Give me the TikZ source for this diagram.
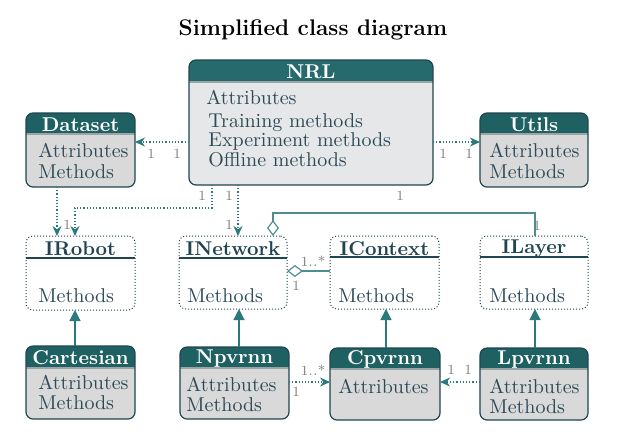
\documentclass[tikz,border=0pt]{standalone}
\usetikzlibrary{arrows.meta,calc}
\definecolor{hdr}{HTML}{1F6062}
\definecolor{hdrnrl}{HTML}{266A6D}
\definecolor{bodyg}{HTML}{D9D9D9}
\definecolor{bodynrl}{HTML}{E5E7E9}
\definecolor{bord}{HTML}{1F4550}
\definecolor{txt}{HTML}{2C4A57}
\definecolor{teal}{HTML}{2A7A7B}
\definecolor{lteal}{HTML}{4E8E93}
\definecolor{lbl}{HTML}{7F7F7F}
\definecolor{sepc}{HTML}{9AA5A8}
\tikzset{
  boxshape/.style={rounded corners=3.5pt, inner sep=0pt, outer sep=0pt},
  bodytext/.style={anchor=west, text=txt, inner sep=0pt},
  hdrtext/.style={text=white, font=\bfseries, inner sep=0pt},
  ifctext/.style={text=bord, font=\bfseries, inner sep=0pt},
  dep/.style={teal, densely dotted, line width=0.6pt, -{Stealth[length=5pt,width=4.5pt]}},
  inh/.style={teal, line width=0.6pt, -{Triangle[length=5.5pt,width=5.5pt]}},
  agg/.style={lteal, line width=0.6pt, {Diamond[open,length=8pt,width=6pt]}-},
  mult/.style={text=lbl, font=\scriptsize, inner sep=0pt},
}
% #1 name, #2 x1, #3 y1, #4 x2, #5 y2, #6 yh, #7 title, #8 body colour, #9 header colour
\newcommand\myclass[9]{%
  \path[boxshape, fill=#8] (#2,#3) rectangle (#4,#5);
  \begin{scope}
    \clip[boxshape] (#2,#3) rectangle (#4,#5);
    \fill[#9] (#2,#3) rectangle (#4,#6);
    \draw[sepc, line width=0.6pt] (#2,#6) -- (#4,#6);
  \end{scope}
  \node[boxshape, draw=bord, line width=0.6pt, minimum width={(#4-#2)*0.5pt}, minimum height={(#5-#3)*0.5pt}] (#1) at ({(#2+#4)/2},{(#3+#5)/2}) {};
  \node[hdrtext] (#1-t) at ({(#2+#4)/2},{(#3+#6)/2+1}) {#7};
}
\newcommand\myiface[7]{%
  \node[boxshape, draw=bord, fill=white, densely dotted, line width=0.5pt, minimum width={(#4-#2)*0.5pt}, minimum height={(#5-#3)*0.5pt}] (#1) at ({(#2+#4)/2},{(#3+#5)/2}) {};
  \draw[bord, line width=0.6pt] (#2,#6) -- (#4,#6);
  \node[ifctext] (#1-t) at ({(#2+#4)/2},{(#3+#6)/2+2}) {#7};
}
\begin{document}
\begin{tikzpicture}[x=0.5pt, y=-0.5pt]
\useasboundingbox (0,0) rectangle (630,446);
\node[font=\fontsize{11.3}{13.5}\selectfont\bfseries, inner sep=0pt] (title) at (313,30) {Simplified class diagram};

\myclass{nrl}{189}{60}{433}{185}{82}{NRL}{bodynrl}{hdrnrl}
\node[bodytext] (nrl-a) at (206,97) {Attributes};
\node[bodytext] (nrl-m1) at (208,123) {Training methods};
\node[bodytext] (nrl-m2) at (208,141) {Experiment methods};
\node[bodytext] (nrl-m3) at (208,160) {Offline methods};

\myclass{dataset}{26}{113}{135}{187}{134}{Dataset}{bodyg}{hdr}
\node[bodytext] (dataset-a) at (38,150) {Attributes};
\node[bodytext] (dataset-m) at (38,172) {Methods};

\myclass{utils}{480}{113}{588}{187}{134}{Utils}{bodyg}{hdr}
\node[bodytext] (utils-a) at (489,150) {Attributes};
\node[bodytext] (utils-m) at (489,172) {Methods};

\myiface{irobot}{26}{236}{135}{310}{258}{IRobot}
\node[bodytext] (irobot-m) at (38,296) {Methods};
\myiface{inetwork}{179}{236}{287}{309}{258}{INetwork}
\node[bodytext] (inetwork-m) at (187,296) {Methods};
\myiface{icontext}{330}{236}{439}{309}{257}{IContext}
\node[bodytext] (icontext-m) at (338,296) {Methods};
\myiface{ilayer}{480}{236}{588}{309}{257}{ILayer}
\node[bodytext] (ilayer-m) at (489,296) {Methods};

\myclass{cartesian}{26}{346}{135}{419}{368}{Cartesian}{bodyg}{hdr}
\node[bodytext] (cartesian-a) at (38,382) {Attributes};
\node[bodytext] (cartesian-m) at (38,403) {Methods};
\myclass{npvrnn}{180}{347}{289}{419}{368}{Npvrnn}{bodyg}{hdr}
\node[bodytext] (npvrnn-a) at (186,384) {Attributes};
\node[bodytext] (npvrnn-m) at (186,405) {Methods};
\myclass{cpvrnn}{330}{348}{440}{420}{369}{Cpvrnn}{bodyg}{hdr}
\node[bodytext] (cpvrnn-a) at (338,386) {Attributes};
\myclass{lpvrnn}{480}{348}{588}{420}{369}{Lpvrnn}{bodyg}{hdr}
\node[bodytext] (lpvrnn-a) at (489,386) {Attributes};
\node[bodytext] (lpvrnn-m) at (489,407) {Methods};

% dependencies
\draw[dep] (nrl.west |- 0,142) -- (dataset.east |- 0,142);
\draw[dep] (nrl.east |- 0,142) -- (utils.west |- 0,142);
\draw[dep] (nrl.south -| 212,0) -- (212,208) -- (75,208) -- (irobot.north -| 75,0);
\draw[dep] (dataset.south -| 57,0) -- (irobot.north -| 57,0);
\draw[dep] (nrl.south -| 238,0) -- (inetwork.north -| 238,0);
\draw[dep] (npvrnn.east |- 0,382) -- (cpvrnn.west |- 0,382);
\draw[dep] (lpvrnn.west |- 0,382) -- (cpvrnn.east |- 0,382);

% aggregations
\draw[agg] (inetwork.north -| 273,0) -- (273,213) -- (535,213) -- (ilayer.north -| 535,0);
\draw[agg] (inetwork.east |- 0,271) -- (icontext.west |- 0,271);

% inheritance
\draw[inh] (cartesian.north -| 75,0) -- (irobot.south -| 75,0);
\draw[inh] (npvrnn.north -| 239,0) -- (inetwork.south -| 239,0);
\draw[inh] (cpvrnn.north -| 386,0) -- (icontext.south -| 386,0);
\draw[inh] (lpvrnn.north -| 535,0) -- (ilayer.south -| 535,0);

% multiplicities
\node[mult] at (151,154) {1};
\node[mult] at (177,154) {1};
\node[mult] at (443,154) {1};
\node[mult] at (469,154) {1};
\node[mult] at (202,196) {1};
\node[mult] at (229,196) {1};
\node[mult] at (67,225) {1};
\node[mult] at (229,225) {1};
\node[mult] at (400,196) {1};
\node[mult] at (537,226) {1};
\node[mult] at (313,261) {1..*};
\node[mult] at (296,286) {1};
\node[mult] at (313,370) {1..*};
\node[mult] at (296,392) {1};
\node[mult] at (451,370) {1};
\node[mult] at (468,370) {1};
\end{tikzpicture}
\end{document}
